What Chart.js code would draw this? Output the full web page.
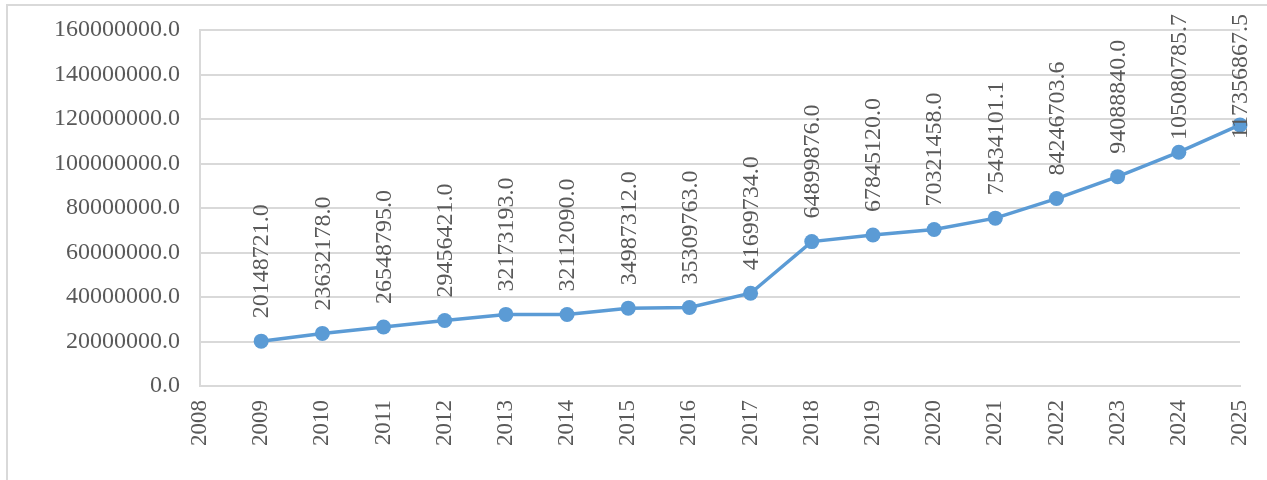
<!DOCTYPE html>
<html>
<head>
<meta charset="utf-8">
<script src="https://cdn.jsdelivr.net/npm/chart.js@4"></script>
<style>
    html, body { margin: 0; padding: 0; background: #fff; }
    #wrap { position: relative; width: 1267px; height: 480px; overflow: hidden; }
    #frame {
        position: absolute; left: 6px; top: 4px; width: 1300px; height: 500px;
        border-top: 2px solid #d9d9d9; border-left: 2px solid #d9d9d9;
    }
    #chart { position: absolute; left: 0; top: 0; }
</style>
</head>
<body>
<div id="wrap">
    <div id="frame"></div>
    <canvas id="chart" width="1267" height="480"></canvas>
</div>
<script>
const years = ['2008', '2009', '2010', '2011', '2012', '2013', '2014', '2015', '2016',
    '2017', '2018', '2019', '2020', '2021', '2022', '2023', '2024', '2025'];
const values = [null, 20148721.0, 23632178.0, 26548795.0, 29456421.0, 32173193.0,
    32112090.0, 34987312.0, 35309763.0, 41699734.0, 64899876.0, 67845120.0,
    70321458.0, 75434101.1, 84246703.6, 94088840.0, 105080785.7, 117356867.5];
const yMin = 0;
const yMax = 160000000;
const yStep = 20000000;

const textColor = '#595959';
const lineColor = '#5B9BD5';
const fontFamily = '"Liberation Serif", "Times New Roman", serif';

// vertical value labels above each point
const valueLabels = {
    id: 'valueLabels',
    afterDatasetsDraw(chart) {
        const ctx = chart.ctx;
        const meta = chart.getDatasetMeta(0);
        ctx.save();
        ctx.font = '24px ' + fontFamily;
        ctx.fillStyle = textColor;
        ctx.textAlign = 'left';
        ctx.textBaseline = 'middle';
        meta.data.forEach(function(pt, i) {
            if (values[i] === null) return;
            const txt = values[i].toFixed(1);
            const w = ctx.measureText(txt).width;
            let y = pt.y - 23;
            if (y - w < 14) y = 14 + w;
            ctx.save();
            ctx.translate(pt.x, y);
            ctx.rotate(-Math.PI / 2);
            ctx.fillText(txt, 0, 1);
            ctx.restore();
        });
        ctx.restore();
    }
};

new Chart(document.getElementById('chart'), {
    type: 'line',
    data: {
        labels: years,
        datasets: [{
            data: values,
            borderColor: lineColor,
            backgroundColor: lineColor,
            borderWidth: 3.5,
            pointRadius: 7.5,
            pointBorderWidth: 0,
            pointBackgroundColor: lineColor,
            tension: 0,
            clip: false,
        }]
    },
    options: {
        responsive: false,
        animation: false,
        layout: { padding: { top: 30, right: 27, bottom: 0, left: 0 } },
        plugins: {
            legend: { display: false },
            tooltip: { enabled: false },
        },
        scales: {
            x: {
                offset: false,
                grid: { display: false, drawTicks: false },
                border: { display: true, color: '#d9d9d9', width: 2 },
                ticks: {
                    color: textColor,
                    font: { family: fontFamily, size: 23 },
                    minRotation: 90,
                    maxRotation: 90,
                    padding: 14,
                    autoSkip: false,
                },
                afterFit: function(scale) {
                    scale.height = 94;
                    scale.paddingLeft = 0;
                    scale.paddingRight = 0;
                },
            },
            y: {
                min: yMin,
                max: yMax,
                grid: { color: '#d9d9d9', lineWidth: 2, drawTicks: false },
                border: { display: true, color: '#d9d9d9', width: 2 },
                ticks: {
                    stepSize: yStep,
                    color: textColor,
                    font: { family: fontFamily, size: 24 },
                    padding: 20,
                    callback: function(v) { return v.toFixed(1); },
                },
                afterFit: function(scale) {
                    scale.width = 200;
                    scale.paddingTop = 0;
                    scale.paddingBottom = 0;
                },
            }
        }
    },
    plugins: [valueLabels]
});
</script>
</body>
</html>
